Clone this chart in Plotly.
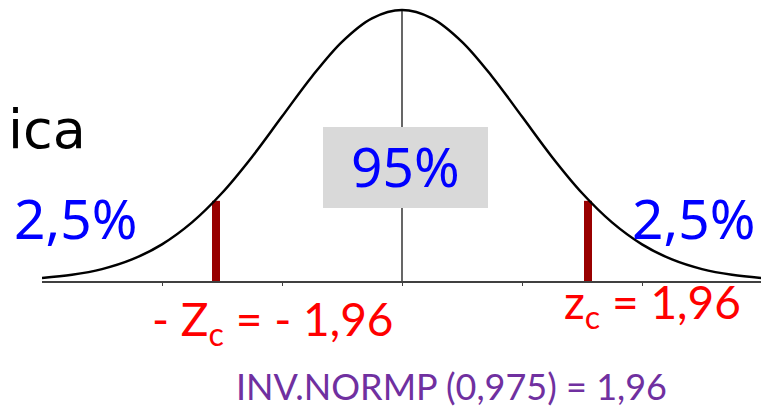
import plotly.graph_objects as go

# ---- data ----
curve_z = [-3.0, -2.75, -2.5, -2.25, -2.0, -1.75, -1.5, -1.25, -1.0, -0.75, -0.5, -0.25,
           0.0, 0.25, 0.5, 0.75, 1.0, 1.25, 1.5, 1.75, 2.0, 2.25, 2.5, 2.75, 3.0]
curve_h = [0.0044, 0.0091, 0.0175, 0.0317, 0.0540, 0.0863, 0.1295, 0.1826, 0.2420, 0.3011,
           0.3521, 0.3867, 0.3989, 0.3867, 0.3521, 0.3011, 0.2420, 0.1826, 0.1295, 0.0863,
           0.0540, 0.0317, 0.0175, 0.0091, 0.0044]
crit_z = [-1.55, 1.55]
crit_h = [0.118, 0.118]
center_z = [0.0, 0.0]
center_h = [0.0, 0.3989]
tick_vals = [-2, -1, 0, 1, 2]

# page body has an 8px margin: figure drawn at (8, 8) of the window
OFF = 8
W, H = 769 - OFF, 411 - OFF
ML, MR, MT, MB = 42 - OFF, 4, 0, 130
X0, X1 = -3.0, 3.025
PW, PH = W - ML - MR, H - MT - MB
Y0, Y1 = 0.0, 0.3989 * PH / 271.0


def px(xr):
    return (xr - OFF - ML) / PW


def py(yr):
    return (H - MB - (yr - OFF)) / PH


fig = go.Figure()
fig.add_trace(go.Scatter(x=center_z, y=center_h, mode="lines",
                         line=dict(color="black", width=1.2), hoverinfo="skip"))
fig.add_trace(go.Scatter(x=curve_z, y=curve_h, mode="lines", line_shape="spline",
                         line=dict(color="black", width=2.5), hoverinfo="skip"))
fig.add_trace(go.Bar(x=crit_z, y=crit_h, width=0.067, marker=dict(color="#990000", line_width=0)))

# grey box behind 95%
fig.add_shape(type="rect", xref="paper", yref="paper",
              x0=px(323), x1=px(488), y0=py(208), y1=py(127),
              fillcolor="#d9d9d9", line_width=0, layer="above")

blue = "#0000ff"
red = "#ff0000"
purple = "#7030a0"
ann = [
    dict(text="ica", x=px(88), y=py(130), xanchor="right", yanchor="middle",
         font=dict(family="DejaVu Sans", size=54, color="black")),
    dict(text="2,5%", x=px(75), y=py(218), xanchor="center", yanchor="middle",
         font=dict(family="Noto Sans", size=55, color=blue)),
    dict(text="2,5%", x=px(693), y=py(218), xanchor="center", yanchor="middle",
         font=dict(family="Noto Sans", size=55, color=blue)),
    dict(text="95%", x=px(405), y=py(166), xanchor="center", yanchor="middle",
         font=dict(family="Noto Sans", size=55, color=blue)),
    dict(text="- Z<sub>c</sub> = - 1,96", x=px(273), y=py(322), xanchor="center", yanchor="middle",
         font=dict(family="Lato", size=46, color=red)),
    dict(text="z<sub>c</sub> = 1,96", x=px(652), y=py(305), xanchor="center", yanchor="middle",
         font=dict(family="Lato", size=46, color=red)),
    dict(text="INV.NORMP (0,975) = 1,96", x=px(451), y=py(386), xanchor="center", yanchor="middle",
         font=dict(family="Lato", size=36, color=purple)),
]
for a in ann:
    a.update(xref="paper", yref="paper", showarrow=False)

fig.update_layout(
    width=W, height=H,
    margin=dict(l=ML, r=MR, t=MT, b=MB),
    paper_bgcolor="white", plot_bgcolor="white",
    showlegend=False,
    annotations=ann,
    xaxis=dict(range=[X0, X1], showgrid=False, zeroline=False, showline=True,
               linecolor="#404040", linewidth=1.5, ticks="outside", ticklen=3,
               tickcolor="#404040", tickvals=tick_vals, showticklabels=False, fixedrange=True),
    yaxis=dict(range=[Y0, Y1], visible=False, fixedrange=True),
)

fig.write_html("out.html")
